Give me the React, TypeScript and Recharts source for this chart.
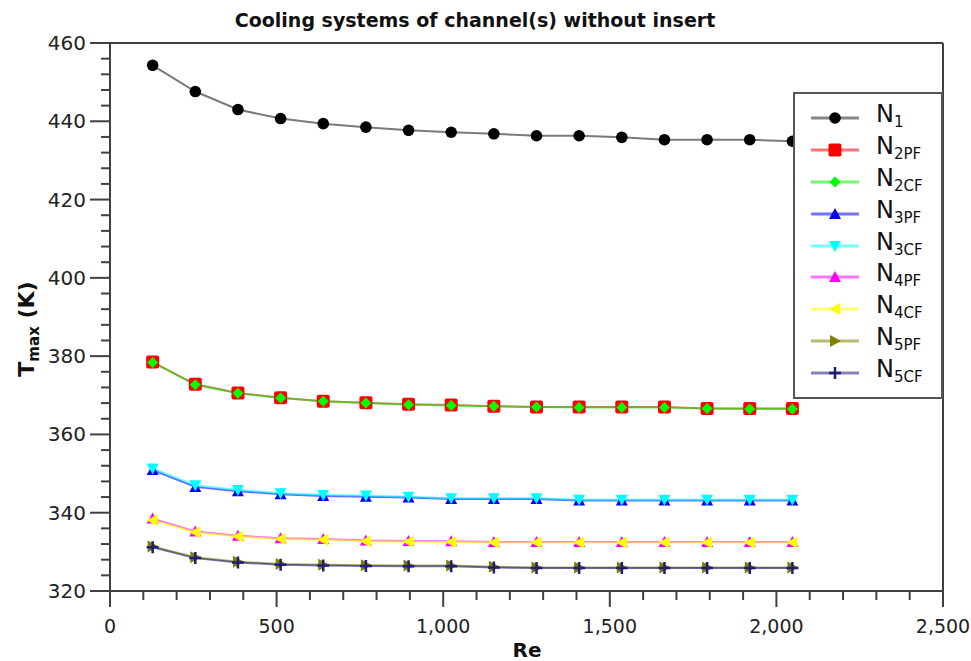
import React from 'react';
import { LineChart, Line, XAxis, YAxis, ReferenceLine } from 'recharts';

// ---- data ----
const reValues = [128, 256, 384, 512, 640, 768, 896, 1024, 1152, 1280, 1408, 1536, 1664, 1792, 1920, 2048];
const n1 = [454.3, 447.6, 443.0, 440.7, 439.4, 438.5, 437.7, 437.2, 436.8, 436.3, 436.3, 435.9, 435.3, 435.3, 435.3, 434.9];
const n2pf = [378.5, 372.8, 370.6, 369.4, 368.5, 368.1, 367.7, 367.5, 367.2, 367.0, 367.0, 367.0, 367.0, 366.6, 366.6, 366.6];
const n2cf = [378.4, 372.7, 370.5, 369.3, 368.5, 368.0, 367.6, 367.4, 367.2, 367.0, 366.9, 366.9, 366.9, 366.6, 366.5, 366.5];
const n3pf = [350.9, 346.6, 345.5, 344.7, 344.3, 344.1, 343.9, 343.5, 343.5, 343.5, 343.1, 343.1, 343.1, 343.1, 343.1, 343.1];
const n3cf = [351.3, 347.0, 345.8, 345.0, 344.5, 344.4, 344.1, 343.7, 343.7, 343.7, 343.3, 343.3, 343.3, 343.3, 343.3, 343.3];
const n4pf = [338.5, 335.2, 334.1, 333.5, 333.3, 332.9, 332.8, 332.7, 332.5, 332.5, 332.5, 332.5, 332.5, 332.5, 332.5, 332.5];
const n4cf = [338.1, 335.0, 333.9, 333.3, 333.1, 332.7, 332.6, 332.5, 332.4, 332.4, 332.4, 332.4, 332.4, 332.4, 332.4, 332.4];
const n5pf = [331.4, 328.6, 327.5, 326.9, 326.7, 326.6, 326.5, 326.5, 326.2, 326.0, 326.0, 326.0, 326.0, 326.0, 326.0, 326.0];
const n5cf = [331.2, 328.4, 327.3, 326.7, 326.5, 326.4, 326.3, 326.3, 326.0, 325.9, 325.9, 325.9, 325.9, 325.9, 325.9, 325.9];

const xTicks = Array.from({ length: 26 }, (_, i) => i * 100);
const yTicks = Array.from({ length: 36 }, (_, i) => 320 + i * 4);

const titleText = 'Cooling systems of channel(s) without insert';
const xLabel = 'Re';

type Shape = 'circle' | 'square' | 'diamond' | 'up' | 'down' | 'left' | 'right' | 'plus';

const series: { key: string; sub: string; values: number[]; color: string; line: string; shape: Shape }[] = [
  { key: 'n1', sub: '1', values: n1, color: '#000000', line: '#222222', shape: 'circle' },
  { key: 'n2pf', sub: '2PF', values: n2pf, color: '#ff0000', line: '#ff0000', shape: 'square' },
  { key: 'n2cf', sub: '2CF', values: n2cf, color: '#00ff00', line: '#00ee00', shape: 'diamond' },
  { key: 'n3pf', sub: '3PF', values: n3pf, color: '#0000ff', line: '#0000ff', shape: 'up' },
  { key: 'n3cf', sub: '3CF', values: n3cf, color: '#00ffff', line: '#00ffff', shape: 'down' },
  { key: 'n4pf', sub: '4PF', values: n4pf, color: '#ff00ff', line: '#ff00ff', shape: 'up' },
  { key: 'n4cf', sub: '4CF', values: n4cf, color: '#ffff00', line: '#ffff00', shape: 'left' },
  { key: 'n5pf', sub: '5PF', values: n5pf, color: '#808000', line: '#808000', shape: 'right' },
  { key: 'n5cf', sub: '5CF', values: n5cf, color: '#1e1e78', line: '#1e1e78', shape: 'plus' },
];

const data = reValues.map((re, i) => {
  const row: Record<string, number> = { re };
  series.forEach((s) => {
    row[s.key] = s.values[i];
  });
  return row;
});

const FONT = '"DejaVu Sans", Verdana, sans-serif';
const AXIS = '#404040';

function Marker({ shape, cx, cy, color }: { shape: Shape; cx: number; cy: number; color: string }) {
  switch (shape) {
    case 'circle':
      return <circle cx={cx} cy={cy} r={5.8} fill={color} />;
    case 'square':
      return <rect x={cx - 6.5} y={cy - 6.5} width={13} height={13} rx={2} fill={color} />;
    case 'diamond':
      return <polygon points={`${cx},${cy - 5.5} ${cx + 5.5},${cy} ${cx},${cy + 5.5} ${cx - 5.5},${cy}`} fill={color} />;
    case 'up':
      return <polygon points={`${cx},${cy - 6} ${cx + 6},${cy + 5} ${cx - 6},${cy + 5}`} fill={color} />;
    case 'down':
      return <polygon points={`${cx - 6},${cy - 5} ${cx + 6},${cy - 5} ${cx},${cy + 6}`} fill={color} />;
    case 'left':
      return <polygon points={`${cx - 6},${cy} ${cx + 5},${cy - 6} ${cx + 5},${cy + 6}`} fill={color} />;
    case 'right':
      return <polygon points={`${cx + 6},${cy} ${cx - 5},${cy - 6} ${cx - 5},${cy + 6}`} fill={color} />;
    case 'plus':
      return (
        <path d={`M${cx - 6},${cy} H${cx + 6} M${cx},${cy - 6} V${cy + 6}`} stroke={color} strokeWidth={2.5} fill="none" />
      );
  }
  return null;
}

function XTick(props: any) {
  const { x, y, payload } = props;
  const v = payload.value as number;
  const major = v % 500 === 0;
  return (
    <g>
      <line x1={x} x2={x} y1={y} y2={y + (major ? 16 : 9)} stroke={AXIS} strokeWidth={2} />
      {major && (
        <text x={x} y={y + 42} textAnchor="middle" fontFamily={FONT} fontSize={19} fill="#222">
          {v.toLocaleString('en-US')}
        </text>
      )}
    </g>
  );
}

function YTick(props: any) {
  const { x, y, payload } = props;
  const v = payload.value as number;
  const major = v % 20 === 0;
  return (
    <g>
      <line x1={x} x2={x - (major ? 20 : 9)} y1={y} y2={y} stroke={AXIS} strokeWidth={2} />
      {major && (
        <text x={x - 24} y={y + 7} textAnchor="end" fontFamily={FONT} fontSize={20} fill="#222">
          {v}
        </text>
      )}
    </g>
  );
}

function LegendBox() {
  return (
    <div
      style={{
        position: 'absolute',
        left: 793,
        top: 92,
        width: 146,
        height: 295,
        border: '2px solid #555',
        background: '#fff',
        boxSizing: 'content-box',
        paddingTop: 8,
        fontFamily: FONT,
      }}
    >
      {series.map((s) => (
        <div key={s.key} style={{ height: 31.9, display: 'flex', alignItems: 'center' }}>
          <svg width={65} height={24} style={{ marginLeft: 16 }}>
            <line x1={0} x2={48} y1={12} y2={12} stroke={s.line} strokeOpacity={0.55} strokeWidth={3} />
            <Marker shape={s.shape} cx={24} cy={12} color={s.color} />
          </svg>
          <span style={{ fontSize: 24, color: '#111', lineHeight: '26px', marginLeft: 0 }}>
            N<sub style={{ fontSize: 15, verticalAlign: '-5px' }}>{s.sub}</sub>
          </span>
        </div>
      ))}
    </div>
  );
}

export default function App() {
  return (
    <div style={{ position: 'absolute', left: 0, top: 0, width: 971, height: 661, background: '#fff' }}>
      <LineChart width={971} height={661} data={data} margin={{ top: 43, right: 28, bottom: 0, left: 0 }}>
        <text x={475} y={27} textAnchor="middle" fontFamily={FONT} fontWeight="bold" fontSize={19} fill="#111">
          {titleText}
        </text>
        <XAxis
          dataKey="re"
          type="number"
          domain={[0, 2500]}
          ticks={xTicks}
          interval={0}
          height={70}
          tickSize={0}
          tickMargin={0}
          tickLine={false}
          axisLine={{ stroke: AXIS, strokeWidth: 2 }}
          tick={<XTick />}
          label={{
            content: () => (
              <text x={527} y={657} textAnchor="middle" fontFamily={FONT} fontWeight="bold" fontSize={20} fill="#111">
                {xLabel}
              </text>
            ),
          }}
        />
        <YAxis
          type="number"
          domain={[320, 460]}
          ticks={yTicks}
          interval={0}
          width={110}
          tickSize={0}
          tickMargin={0}
          tickLine={false}
          axisLine={{ stroke: AXIS, strokeWidth: 2 }}
          tick={<YTick />}
          label={{
            content: () => (
              <text
                transform="translate(34,329) rotate(-90)"
                textAnchor="middle"
                fontFamily={FONT}
                fontWeight="bold"
                fontSize={22}
                fill="#111"
              >
                <tspan>T</tspan>
                <tspan fontSize={15} dy={5}>max</tspan>
                <tspan dy={-5}> (K)</tspan>
              </text>
            ),
          }}
        />
        <ReferenceLine y={460} stroke={AXIS} strokeWidth={2} />
        <ReferenceLine x={2500} stroke={AXIS} strokeWidth={2} />
        {series.map((s) => (
          <Line
            key={s.key}
            dataKey={s.key}
            name={s.key}
            type="linear"
            stroke={s.line}
            strokeOpacity={0.6}
            strokeWidth={2}
            isAnimationActive={false}
            dot={(p: any) => (
              <g key={`${s.key}-${p.index}`}>
                <Marker shape={s.shape} cx={p.cx} cy={p.cy} color={s.color} />
              </g>
            )}
            activeDot={false}
          />
        ))}
      </LineChart>
      <LegendBox />
    </div>
  );
}
